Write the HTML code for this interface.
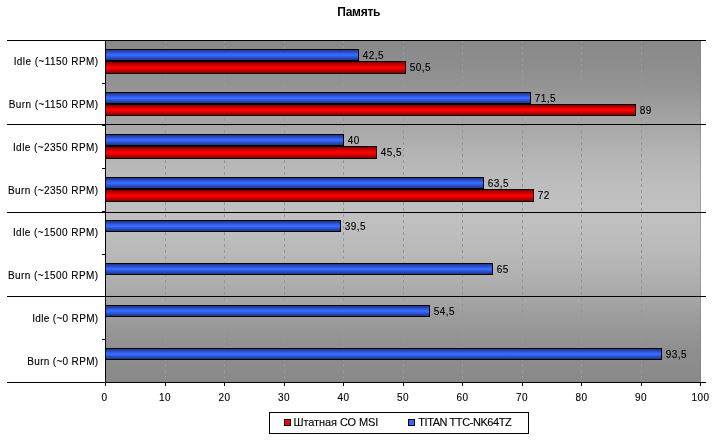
<!DOCTYPE html>
<html lang="ru"><head><meta charset="utf-8"><title>Память</title>
<style>html,body{margin:0;padding:0;background:#fff}body{width:716px;height:440px;overflow:hidden}svg{display:block}text{font-family:"Liberation Sans",Arial,sans-serif;fill:#000;}.t{font-size:10px;letter-spacing:0.44px}.t,.l{stroke:#000;stroke-width:0.12px}</style>
</head><body>
<svg width="716" height="440" viewBox="0 0 716 440">
<defs>
<linearGradient id="bg" x1="0" y1="0" x2="0" y2="1"><stop offset="0.000" stop-color="rgb(137,137,137)"/><stop offset="0.020" stop-color="rgb(138,138,138)"/><stop offset="0.082" stop-color="rgb(142,142,142)"/><stop offset="0.143" stop-color="rgb(149,149,149)"/><stop offset="0.205" stop-color="rgb(159,159,159)"/><stop offset="0.272" stop-color="rgb(171,171,171)"/><stop offset="0.322" stop-color="rgb(178,178,178)"/><stop offset="0.380" stop-color="rgb(185,185,185)"/><stop offset="0.439" stop-color="rgb(190,190,190)"/><stop offset="0.482" stop-color="rgb(192,192,192)"/><stop offset="0.500" stop-color="rgb(192,192,192)"/><stop offset="0.518" stop-color="rgb(192,192,192)"/><stop offset="0.561" stop-color="rgb(190,190,190)"/><stop offset="0.620" stop-color="rgb(185,185,185)"/><stop offset="0.678" stop-color="rgb(178,178,178)"/><stop offset="0.728" stop-color="rgb(171,171,171)"/><stop offset="0.795" stop-color="rgb(159,159,159)"/><stop offset="0.857" stop-color="rgb(149,149,149)"/><stop offset="0.918" stop-color="rgb(142,142,142)"/><stop offset="0.980" stop-color="rgb(138,138,138)"/><stop offset="1.000" stop-color="rgb(137,137,137)"/></linearGradient>
<linearGradient id="gb" x1="0" y1="0" x2="0" y2="1"><stop offset="0" stop-color="#1b3688"/><stop offset="0.45" stop-color="#3768ff"/><stop offset="0.55" stop-color="#3768ff"/><stop offset="1" stop-color="#1b3688"/></linearGradient>
<linearGradient id="gr" x1="0" y1="0" x2="0" y2="1"><stop offset="0" stop-color="#840000"/><stop offset="0.45" stop-color="#ff0000"/><stop offset="0.55" stop-color="#ff0000"/><stop offset="1" stop-color="#840000"/></linearGradient>
</defs>
<rect width="716" height="440" fill="#fff"/>
<rect x="105" y="40" width="596" height="342" fill="url(#bg)" shape-rendering="crispEdges"/>
<rect x="700" y="40" width="1" height="342" fill="#808080" opacity="0.5" shape-rendering="crispEdges"/>
<g stroke="#989898" stroke-width="1" stroke-dasharray="3 3" shape-rendering="crispEdges">
<line x1="165.5" y1="40" x2="165.5" y2="382"/>
<line x1="224.5" y1="40" x2="224.5" y2="382"/>
<line x1="284.5" y1="40" x2="284.5" y2="382"/>
<line x1="343.5" y1="40" x2="343.5" y2="382"/>
<line x1="403.5" y1="40" x2="403.5" y2="382"/>
<line x1="462.5" y1="40" x2="462.5" y2="382"/>
<line x1="522.5" y1="40" x2="522.5" y2="382"/>
<line x1="581.5" y1="40" x2="581.5" y2="382"/>
<line x1="641.5" y1="40" x2="641.5" y2="382"/>
</g>
<g fill="#000" shape-rendering="crispEdges">
<rect x="7" y="40" width="699" height="1"/>
<rect x="7" y="124" width="699" height="1"/>
<rect x="7" y="212" width="699" height="1"/>
<rect x="7" y="296" width="699" height="1"/>
<rect x="7" y="382" width="699" height="1"/>
<rect x="105" y="40" width="1" height="343"/>
<rect x="102" y="40" width="4" height="1"/>
<rect x="102" y="83" width="4" height="1"/>
<rect x="102" y="125" width="4" height="1"/>
<rect x="102" y="168" width="4" height="1"/>
<rect x="102" y="211" width="4" height="1"/>
<rect x="102" y="254" width="4" height="1"/>
<rect x="102" y="296" width="4" height="1"/>
<rect x="102" y="339" width="4" height="1"/>
<rect x="102" y="382" width="4" height="1"/>
<rect x="105" y="382" width="1" height="4"/>
<rect x="165" y="382" width="1" height="4"/>
<rect x="224" y="382" width="1" height="4"/>
<rect x="284" y="382" width="1" height="4"/>
<rect x="343" y="382" width="1" height="4"/>
<rect x="403" y="382" width="1" height="4"/>
<rect x="462" y="382" width="1" height="4"/>
<rect x="522" y="382" width="1" height="4"/>
<rect x="581" y="382" width="1" height="4"/>
<rect x="641" y="382" width="1" height="4"/>
<rect x="700" y="382" width="1" height="4"/>
</g>
<g shape-rendering="crispEdges">
<rect x="105" y="49" width="254" height="12" fill="#000"/>
<rect x="106" y="50" width="252" height="10" fill="url(#gb)"/>
<rect x="105" y="61" width="301" height="13" fill="#000"/>
<rect x="106" y="62" width="299" height="11" fill="url(#gr)"/>
<rect x="105" y="92" width="426" height="12" fill="#000"/>
<rect x="106" y="93" width="424" height="10" fill="url(#gb)"/>
<rect x="105" y="104" width="531" height="12" fill="#000"/>
<rect x="106" y="105" width="529" height="10" fill="url(#gr)"/>
<rect x="105" y="134" width="239" height="12" fill="#000"/>
<rect x="106" y="135" width="237" height="10" fill="url(#gb)"/>
<rect x="105" y="146" width="272" height="13" fill="#000"/>
<rect x="106" y="147" width="270" height="11" fill="url(#gr)"/>
<rect x="105" y="177" width="379" height="12" fill="#000"/>
<rect x="106" y="178" width="377" height="10" fill="url(#gb)"/>
<rect x="105" y="189" width="429" height="13" fill="#000"/>
<rect x="106" y="190" width="427" height="11" fill="url(#gr)"/>
<rect x="105" y="220" width="236" height="12" fill="#000"/>
<rect x="106" y="221" width="234" height="10" fill="url(#gb)"/>
<rect x="105" y="263" width="388" height="12" fill="#000"/>
<rect x="106" y="264" width="386" height="10" fill="url(#gb)"/>
<rect x="105" y="305" width="325" height="12" fill="#000"/>
<rect x="106" y="306" width="323" height="10" fill="url(#gb)"/>
<rect x="105" y="348" width="557" height="12" fill="#000"/>
<rect x="106" y="349" width="555" height="10" fill="url(#gb)"/>
</g>
<g class="t">
<text x="98.6" y="65.2" text-anchor="end">Idle (~1150 RPM)</text>
<text x="362.8" y="59.3">42,5</text>
<text x="409.8" y="71.3">50,5</text>
<text x="98.6" y="108.2" text-anchor="end">Burn (~1150 RPM)</text>
<text x="534.8" y="102.3">71,5</text>
<text x="639.8" y="114.3">89</text>
<text x="98.6" y="151.2" text-anchor="end">Idle (~2350 RPM)</text>
<text x="347.8" y="144.3">40</text>
<text x="380.8" y="156.3">45,5</text>
<text x="98.6" y="194.2" text-anchor="end">Burn (~2350 RPM)</text>
<text x="487.8" y="187.3">63,5</text>
<text x="537.8" y="199.3">72</text>
<text x="98.6" y="236.2" text-anchor="end">Idle (~1500 RPM)</text>
<text x="344.8" y="230.3">39,5</text>
<text x="98.6" y="279.2" text-anchor="end">Burn (~1500 RPM)</text>
<text x="496.8" y="273.3">65</text>
<text x="98.5" y="322.2" text-anchor="end" style="letter-spacing:0.33px">Idle (~0 RPM)</text>
<text x="433.8" y="315.3">54,5</text>
<text x="98.5" y="365.2" text-anchor="end" style="letter-spacing:0.33px">Burn (~0 RPM)</text>
<text x="665.8" y="358.3">93,5</text>
<text x="104.6" y="401.3" text-anchor="middle">0</text>
<text x="164.9" y="401.3" text-anchor="middle">10</text>
<text x="224.4" y="401.3" text-anchor="middle">20</text>
<text x="283.9" y="401.3" text-anchor="middle">30</text>
<text x="343.4" y="401.3" text-anchor="middle">40</text>
<text x="402.9" y="401.3" text-anchor="middle">50</text>
<text x="462.4" y="401.3" text-anchor="middle">60</text>
<text x="521.9" y="401.3" text-anchor="middle">70</text>
<text x="581.4" y="401.3" text-anchor="middle">80</text>
<text x="640.9" y="401.3" text-anchor="middle">90</text>
<text x="700.4" y="401.3" text-anchor="middle">100</text>
</g>
<text x="358.9" y="16" text-anchor="middle" font-size="12px" font-weight="bold" textLength="43.1" lengthAdjust="spacing">Память</text>
<g shape-rendering="crispEdges">
<rect x="269.5" y="412.5" width="259" height="21" fill="#fff" stroke="#000" stroke-width="1"/>
<rect x="284" y="419" width="7" height="7" fill="#000"/><rect x="285" y="420" width="5" height="5" fill="#ff0000"/>
<rect x="408" y="419" width="7" height="7" fill="#000"/><rect x="409" y="420" width="5" height="5" fill="#3366ff"/>
</g>
<text x="293.4" y="426" class="l" font-size="11px" textLength="85" lengthAdjust="spacing">Штатная СО MSI</text>
<text x="418.2" y="426" class="l" font-size="11px" textLength="93.6" lengthAdjust="spacing">TITAN TTC-NK64TZ</text>
</svg>
</body></html>
